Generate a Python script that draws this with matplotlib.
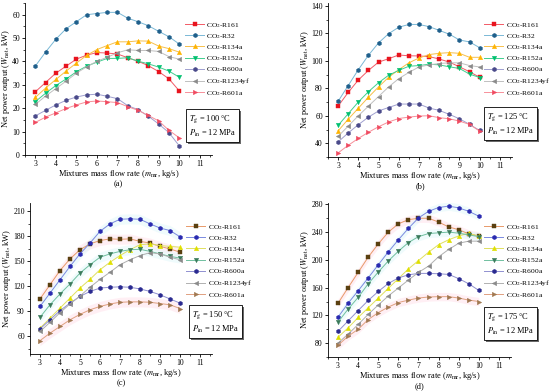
import matplotlib
matplotlib.use("Agg")
from matplotlib import pyplot as plt
from matplotlib import patheffects as pe
from matplotlib.ticker import MultipleLocator
import numpy as np

plt.rcParams['font.family'] = ['Liberation Serif', 'DejaVu Serif']
plt.rcParams['mathtext.fontset'] = 'stix'
plt.rcParams['font.size'] = 5.5

flow = [3, 3.5, 4, 4.5, 5, 5.5, 6, 6.5, 7, 7.5, 8, 8.5, 9, 9.5, 10]
names = ['R161', 'R32', 'R134a', 'R152a', 'R600a', 'R1234yf', 'R601a']
temps = [100, 125, 150, 175]
panel_tags = ['(a)', '(b)', '(c)', '(d)']

# panel (a), Tg = 100 C
a_R161 = [27, 31, 35, 38, 41, 42.7, 43.8, 43.6, 43.2, 41.6, 40.1, 38.2, 35.7, 32.6, 27.5]
a_R32 = [38, 44, 49.5, 54, 57, 60, 60.5, 61, 61, 58.5, 57, 55.3, 52.9, 50.6, 47.5]
a_R134a = [24.6, 28.6, 32.3, 35.9, 39.3, 42.6, 45.1, 46.8, 48.4, 48.4, 48.8, 48.7, 46.6, 45.5, 44]
a_R152a = [22.8, 26.4, 29.7, 32.5, 35.6, 38, 39.7, 41.3, 41.3, 41.6, 40.1, 39, 37.6, 35.9, 33.3]
a_R600a = [16.7, 19.1, 21.4, 23.4, 24.8, 25.7, 26, 25.1, 24.1, 21.1, 19.4, 16.6, 13.3, 9.6, 4]
a_R1234yf = [21.6, 25.2, 28.4, 31.6, 35, 37.7, 40.1, 41.8, 43.7, 45, 44.7, 44.7, 44.3, 42.1, 41]
a_R601a = [13.9, 16.2, 18, 19.9, 21.4, 22.7, 23.1, 22.8, 22.4, 20.7, 19.1, 16.9, 14.6, 10.6, 7.4]

# panel (b), Tg = 125 C
b_R161 = [67, 77, 86, 93, 99, 101.5, 104.2, 103.6, 103.5, 103, 101.3, 99, 95.6, 92, 88]
b_R32 = [70.5, 82, 93.5, 104, 113, 119.7, 124.4, 126.4, 126.4, 124.8, 122.1, 119.3, 115.1, 113.7, 109.5]
b_R134a = [49, 57.5, 65.5, 73.5, 81, 88, 93.5, 98.5, 102, 104.5, 105.4, 105.9, 105.4, 102.5, 102.5]
b_R152a = [53, 61.5, 70, 77.5, 84, 89.5, 93, 96, 96.5, 97.5, 97, 95.6, 94.4, 90.3, 87.8]
b_R600a = [41, 47.5, 53.5, 59, 63.5, 66, 68.5, 68.5, 68.5, 65.6, 63.9, 61, 57.8, 53.7, 49.3]
b_R1234yf = [45, 52.5, 60, 67, 74, 81, 87, 91.5, 95.5, 97, 98, 98.5, 98.5, 96.5, 95.5]
b_R601a = [33, 38.5, 43.5, 48, 52, 55.5, 58, 59, 59.8, 60, 58.6, 57.8, 56.1, 53.7, 48.8]

# panel (c), Tg = 150 C
c_R161 = [105, 122, 139, 153, 164, 171, 175, 177, 176.5, 177, 174, 172, 168, 165, 161]
c_R32 = [96, 112, 128, 144, 159, 172, 186, 195, 200.5, 201, 200.5, 195, 190, 187, 179.5]
c_R134a = [70, 82, 94, 106, 118, 128.5, 140, 149, 157, 164, 170, 171, 169, 168, 167]
c_R152a = [83, 98, 111, 123, 136, 146, 155, 159, 162, 164, 164.5, 162, 159, 156, 154]
c_R600a = [69, 80, 91, 100, 108, 114, 118, 119, 119.5, 119, 117, 114, 110, 105, 100]
c_R1234yf = [66, 77, 88.5, 99, 108.5, 119, 128.5, 137, 146, 152, 157, 160.5, 159, 155, 152]
c_R601a = [55, 64, 72, 80, 86.5, 92, 96, 99, 101, 101.5, 101.5, 101, 99.5, 98, 93.5]

# panel (d), Tg = 175 C
d_R161 = [137.5, 160, 182, 204, 223, 240, 252, 258, 260, 260, 254.5, 247.5, 243.5, 237.5, 234.5]
d_R32 = [117.5, 137.5, 155.5, 174, 193, 211.5, 229, 245.5, 260.5, 270, 275.5, 277.5, 275, 270, 263]
d_R134a = [88.5, 102, 117, 131, 145, 159, 173, 187, 199, 211, 222, 229, 234.5, 238.5, 234]
d_R152a = [110.5, 129, 146, 165.5, 182.5, 198.5, 212.5, 225, 233.5, 238, 239, 240, 238.5, 236, 233.5]
d_R600a = [97, 112, 127, 141.5, 154.5, 166, 174, 178.5, 180.5, 180.5, 180, 179, 173, 165.5, 156]
d_R1234yf = [80, 93, 107, 121.5, 135, 148, 159.5, 171, 182, 191, 204.5, 215, 224, 227, 227]
d_R601a = [77, 90, 100, 114, 124, 132, 138.5, 142, 145, 146.5, 147, 147, 145, 142, 140]

panels = [
    [a_R161, a_R32, a_R134a, a_R152a, a_R600a, a_R1234yf, a_R601a],
    [b_R161, b_R32, b_R134a, b_R152a, b_R600a, b_R1234yf, b_R601a],
    [c_R161, c_R32, c_R134a, c_R152a, c_R600a, c_R1234yf, c_R601a],
    [d_R161, d_R32, d_R134a, d_R152a, d_R600a, d_R1234yf, d_R601a],
]

markers = ['s', 'h', '^', 'v', 'h', '<', '>']
# (marker colour, line colour) for the top and bottom rows
style_top = [('#e8141e', '#f25a66'), ('#1f5f8b', '#7ab8d6'), ('#ffb400', '#f7c04a'),
             ('#00c070', '#40d090'), ('#4a4a8a', '#a0a0d0'), ('#8a8a8a', '#c0c0c0'),
             ('#f04a60', '#f7909a')]
style_bot = [('#5a4010', '#e89a6a'), ('#2a2ab0', '#7a8ae0'), ('#e0e000', '#e0e060'),
             ('#3a7a5a', '#70c0a0'), ('#2a2a90', '#9090d0'), ('#8a8a8a', '#b0b0b0'),
             ('#a07850', '#e0a080')]
band_bot = ['#ffe0ea', '#e0f8fb', None, '#e0f8fb', None, None, '#ffe0ea']

ylims = [(0, 65), (30, 142), (39, 220), (60, 282)]
yticks = [10, 20, 30, 40]
W, H = 550, 391
# axes boxes in pixels: left, top, right, bottom
boxes = [(25, 3, 212, 155), (328, 3, 512, 157), (30, 203, 212, 354), (328, 203, 511, 357)]
legend_at = [(181, 17), (480, 17), (182, 219), (480, 219)]
note_at = [(189, 126), (487, 124), (192, 322), (487, 324)]

fig = plt.figure(figsize=(W / 100, H / 100), dpi=100)

for i, series in enumerate(panels):
    l, t, r, b = boxes[i]
    ax = fig.add_axes([l / W, 1 - b / H, (r - l) / W, (b - t) / H])
    sty = style_top if i < 2 else style_bot
    for j, y in enumerate(series):
        mc, lc = sty[j]
        if i >= 2 and band_bot[j]:
            ax.fill_between(flow, np.array(y) - 6, np.array(y) + 6, color=band_bot[j],
                            alpha=0.5, lw=0, zorder=1)
        ax.plot(flow, y, color=lc, lw=0.7, marker=markers[j], ms=3.2, mfc=mc, mec=mc,
                mew=0.3, label='CO$_2$-' + names[j], zorder=3)
    ax.set_xlim(2.5, 11.6)
    ax.set_ylim(*ylims[i])
    ax.xaxis.set_major_locator(MultipleLocator(1))
    ax.xaxis.set_minor_locator(MultipleLocator(0.5))
    ax.yaxis.set_major_locator(MultipleLocator(yticks[i]))
    ax.yaxis.set_minor_locator(MultipleLocator(yticks[i] / 2))
    ax.set_xticks(range(3, 12))
    for s in ['top', 'right']:
        ax.spines[s].set_visible(False)
    for s in ['left', 'bottom']:
        ax.spines[s].set_linewidth(0.6)
    ax.tick_params(which='major', direction='out', length=2.5, width=0.6, labelsize=5.6, pad=1.2)
    ax.tick_params(which='minor', direction='out', length=1.5, width=0.5)
    ax.set_xlabel('Mixtures mass flow rate ($m_{\\rm mr}$, kg/s)', fontsize=6, labelpad=0)
    ax.set_ylabel('Net power output ($W_{\\rm net}$, kW)', fontsize=6, labelpad=0.5)

    lx, ly = legend_at[i]
    ax.legend(loc='upper left', bbox_to_anchor=(lx / W, 1 - ly / H),
              bbox_transform=fig.transFigure, frameon=False, fontsize=5.4,
              handlelength=2.6, handletextpad=0.3, labelspacing=0.3, borderpad=0)

    nx, ny = note_at[i]
    txt = fig.text(nx / W, 1 - ny / H,
                   '$T_{\\rm g}$ = %d °C\n$P_{\\rm in}$ = 12 MPa' % temps[i],
                   fontsize=6, va='center', ha='left', linespacing=1.4,
                   bbox=dict(boxstyle='square,pad=0.35', fc='white', ec='black', lw=0.6))
    txt.get_bbox_patch().set_path_effects([pe.SimplePatchShadow(offset=(1.2, -1.2),
                                           shadow_rgbFace='#444444', alpha=0.8), pe.Normal()])

    cx = (l + r) / 2 / W
    fig.text(cx, 1 - (b + 29) / H, panel_tags[i], ha='center', va='center', fontsize=6)

fig.savefig('out.png', dpi=100)
